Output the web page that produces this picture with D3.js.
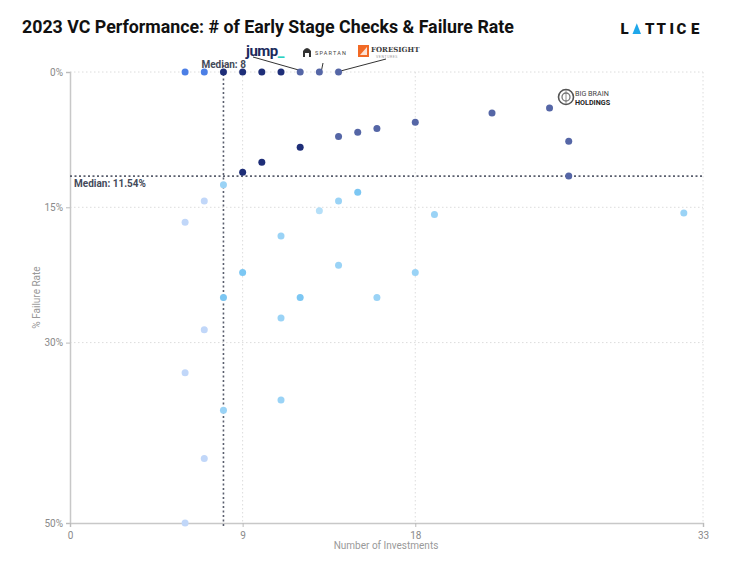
<!DOCTYPE html>
<html>
<head>
<meta charset="utf-8">
<script src="https://cdn.jsdelivr.net/npm/d3@7"></script>
<style>
  body { margin: 0; background: #fff; }
  svg text { font-family: Roboto, "Noto Sans", sans-serif; }
</style>
</head>
<body>
<div class="plot1"></div>
<script>
// each point is one VC: number of early stage checks vs % failed
var investments = [6, 7, 8, 9, 10, 11, 12, 13, 14,
  9, 10, 12, 14, 15, 16, 18, 22, 25, 26, 26,
  8, 7, 6, 11, 13, 14, 15, 19, 32, 9, 14, 18, 8, 12, 16, 11, 7, 6, 11, 8, 7, 6];
var failureRate = [0, 0, 0, 0, 0, 0, 0, 0, 0,
  11.11, 10.0, 8.33, 7.14, 6.67, 6.25, 5.56, 4.55, 4.0, 7.69, 11.54,
  12.5, 14.29, 16.67, 18.18, 15.38, 14.29, 13.33, 15.79, 15.63, 22.22, 21.43, 22.22,
  25.0, 25.0, 25.0, 27.27, 28.57, 33.33, 36.36, 37.5, 42.86, 50.0];
var group = ["bright", "bright", "navy", "navy", "navy", "navy", "slate", "slate", "slate",
  "navy", "navy", "navy", "slate", "slate", "slate", "slate", "slate", "slate", "slate", "slate",
  "sky", "pale", "pale", "sky", "skyLight", "sky", "skyStrong", "sky", "sky", "skyStrong", "sky", "sky",
  "skyStrong", "skyStrong", "sky", "sky", "pale", "pale", "sky", "sky", "pale", "pale"];

var xTicks = [0, 9, 18, 33];
var yTicks = [0, 15, 30, 50];
var medianX = 8;
var medianY = 11.54;

var colors = {
  bright: "#4c7fe6",
  navy: "#1e2e78",
  slate: "#5566a6",
  sky: "#9ad3f6",
  skyLight: "#b5dff8",
  skyStrong: "#7cc7f3",
  pale: "#c1d7f9"
};

function plotScatter() {
  var width = 740;
  var height = 564;

  var svg = d3.select(".plot1").append("svg")
    .attr("width", width)
    .attr("height", height);

  var x = d3.scaleLinear().domain([0, 33]).range([70, 703]);
  var y = d3.scaleLinear().domain([0, 50]).range([72, 523]);

  // title
  svg.append("text")
    .attr("x", 22).attr("y", 33)
    .style("font-size", "17.8px").style("font-weight", "700")
    .style("fill", "#111")
    .text("2023 VC Performance: # of Early Stage Checks & Failure Rate");

  // lattice logo, letter by letter
  var logoLetters = [["L", 620.5], ["T", 645], ["T", 656.5], ["I", 669.5], ["C", 676.5], ["E", 691]];
  svg.append("g").selectAll("text")
    .data(logoLetters)
    .join("text")
    .attr("x", d => d[1]).attr("y", 34)
    .style("font-size", "15px").style("font-weight", "900")
    .style("fill", "#111")
    .text(d => d[0]);
  svg.append("path")
    .attr("d", "M632.5,34 L636.8,23.3 L641,34 Z")
    .attr("fill", "#1ea7ea");

  // grid
  svg.append("g").selectAll("line")
    .data(yTicks.filter(d => d < 50))
    .join("line")
    .attr("x1", x(0)).attr("x2", x(33))
    .attr("y1", d => y(d)).attr("y2", d => y(d))
    .attr("stroke", "#dcdcdc").attr("stroke-dasharray", "1.5,2.5");

  svg.append("g").selectAll("line")
    .data(xTicks.filter(d => d > 0))
    .join("line")
    .attr("x1", d => x(d)).attr("x2", d => x(d))
    .attr("y1", y(0)).attr("y2", y(50))
    .attr("stroke", "#dcdcdc").attr("stroke-dasharray", "1.5,2.5");

  // axes
  var yAxis = svg.append("g")
    .attr("transform", "translate(" + x(0) + ",0)")
    .call(d3.axisLeft(y).tickValues(yTicks).tickSize(4).tickFormat(d => d + "%"));
  var xAxis = svg.append("g")
    .attr("transform", "translate(0," + y(50) + ")")
    .call(d3.axisBottom(x).tickValues(xTicks).tickSize(4));

  [xAxis, yAxis].forEach(function(a) {
    a.select(".domain").attr("stroke", "#c8c8c8").attr("stroke-width", 1.5);
    a.selectAll(".tick line").attr("stroke", "#bbb");
    a.selectAll(".tick text")
      .style("font-size", "10px").style("fill", "#8a8a8a")
      .style("font-family", "Roboto, sans-serif");
  });
  xAxis.selectAll(".tick text").attr("dy", "0.9em");

  svg.append("text")
    .attr("x", 386).attr("y", 549)
    .attr("text-anchor", "middle")
    .style("font-size", "10px").style("fill", "#999")
    .text("Number of Investments");

  svg.append("text")
    .attr("transform", "translate(40," + y(25) + ") rotate(-90)")
    .attr("text-anchor", "middle")
    .style("font-size", "10px").style("fill", "#999")
    .text("% Failure Rate");

  // medians
  svg.append("line")
    .attr("x1", x(medianX)).attr("x2", x(medianX))
    .attr("y1", y(0) - 7).attr("y2", y(50) + 3)
    .attr("stroke", "#5a5f6e").attr("stroke-width", 1.6)
    .attr("stroke-dasharray", "2,2.5");
  svg.append("line")
    .attr("x1", x(0)).attr("x2", x(33))
    .attr("y1", y(medianY)).attr("y2", y(medianY))
    .attr("stroke", "#5a5f6e").attr("stroke-width", 1.6)
    .attr("stroke-dasharray", "2,2.5");

  svg.append("text")
    .attr("x", x(medianX) - 22).attr("y", y(0) - 4)
    .style("font-size", "10px").style("font-weight", "700").style("fill", "#444a5a")
    .text("Median: " + medianX);
  svg.append("text")
    .attr("x", x(0) + 4).attr("y", y(medianY) + 11)
    .style("font-size", "10px").style("font-weight", "700").style("fill", "#444a5a")
    .text("Median: " + medianY + "%");

  // annotation leaders to the logos
  var leaders = [
    { i: 6, x2: 253, y2: 57 },
    { i: 7, x2: 323, y2: 63 },
    { i: 8, x2: 386, y2: 59 }
  ];
  svg.append("g").selectAll("line")
    .data(leaders)
    .join("line")
    .attr("x1", d => x(investments[d.i]) + 2).attr("y1", d => y(failureRate[d.i]) - 1)
    .attr("x2", d => d.x2).attr("y2", d => d.y2)
    .attr("stroke", "#333").attr("stroke-width", 1);

  // points
  var pts = investments.map(function(v, i) {
    return { n: v, rate: failureRate[i], g: group[i] };
  });
  svg.append("g").selectAll("circle")
    .data(pts)
    .join("circle")
    .attr("cx", d => x(d.n))
    .attr("cy", d => y(d.rate))
    .attr("r", 3.5)
    .attr("fill", d => colors[d.g]);

  // logos as text marks
  var jump = svg.append("text").attr("x", 246).attr("y", 56)
    .style("font-size", "15px").style("font-weight", "700")
    .style("fill", "#1b2a5c").style("letter-spacing", "-0.5px");
  jump.append("tspan").text("jump");
  jump.append("tspan").style("fill", "#2ad1c0").text("_");

  svg.append("path")
    .attr("d", "M303,57 L303,51 Q307,45 311,51 L311,57 L309,57 L309,53 L305,53 L305,57 Z")
    .attr("fill", "#333");
  svg.append("text").attr("x", 315).attr("y", 55)
    .style("font-size", "5.5px").style("letter-spacing", "1.2px").style("fill", "#444")
    .text("SPARTAN");

  svg.append("rect").attr("x", 358).attr("y", 45).attr("width", 11).attr("height", 12)
    .attr("fill", "#f26a25");
  svg.append("path").attr("d", "M360,55 L367,47 L367,55 Z").attr("fill", "#fff").attr("opacity", 0.8);
  svg.append("text").attr("x", 371).attr("y", 52)
    .style("font-size", "7px").style("font-weight", "700")
    .style("font-family", "'DejaVu Serif', serif").style("fill", "#3a3a3a")
    .text("FORESIGHT");
  svg.append("text").attr("x", 376).attr("y", 58)
    .style("font-size", "3.5px").style("letter-spacing", "0.6px").style("fill", "#999")
    .text("VENTURES");

  svg.append("circle").attr("cx", 566).attr("cy", 97).attr("r", 7.5)
    .attr("fill", "#fff").attr("stroke", "#555").attr("stroke-width", 1.6);
  svg.append("circle").attr("cx", 566).attr("cy", 97).attr("r", 4)
    .attr("fill", "none").attr("stroke", "#777").attr("stroke-width", 1.3);
  svg.append("line").attr("x1", 566).attr("x2", 566).attr("y1", 90).attr("y2", 104)
    .attr("stroke", "#777").attr("stroke-width", 0.8);
  svg.append("text").attr("x", 575).attr("y", 95.5)
    .style("font-size", "7.2px").style("fill", "#444")
    .text("BIG BRAIN");
  svg.append("text").attr("x", 575).attr("y", 104.5)
    .style("font-size", "7.2px").style("font-weight", "700").style("fill", "#222")
    .text("HOLDINGS");
}

plotScatter();
</script>
</body>
</html>
